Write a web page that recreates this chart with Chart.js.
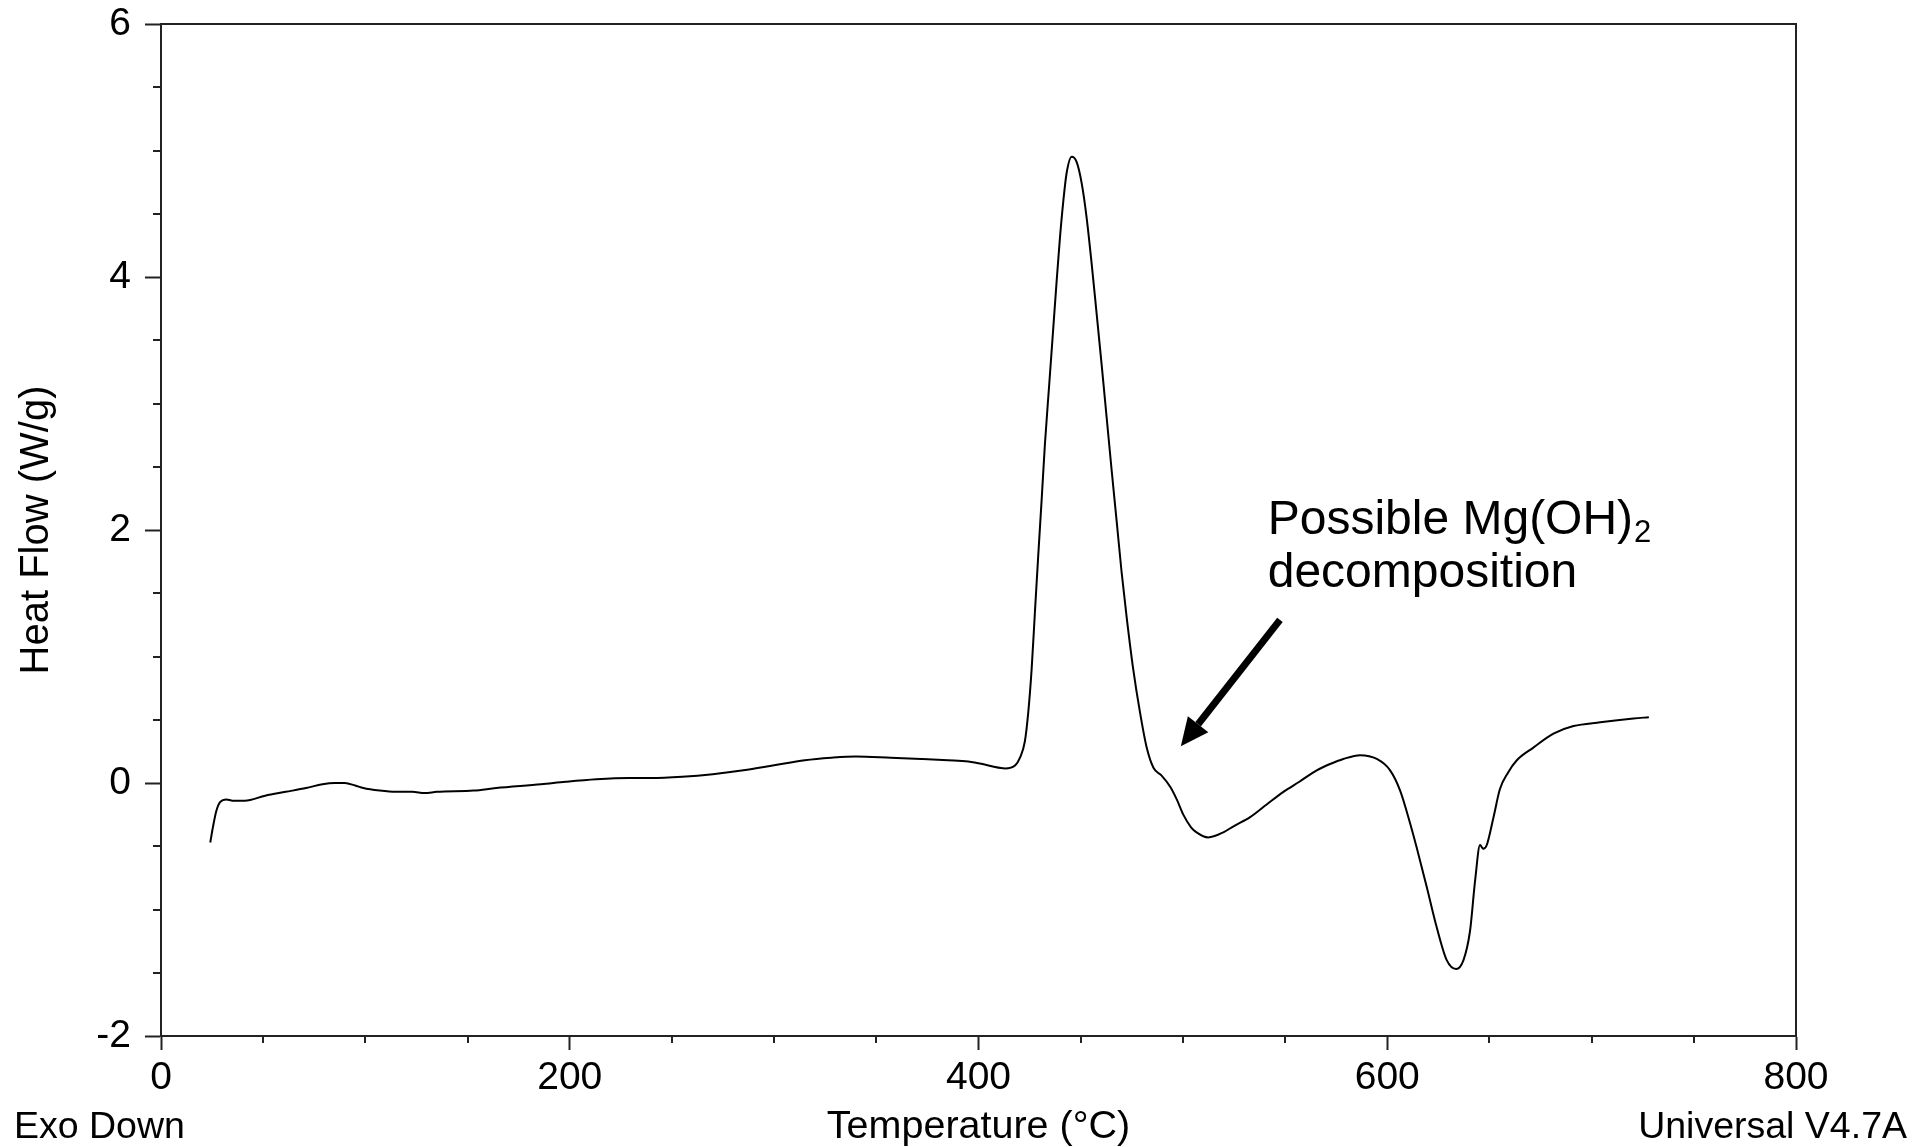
<!DOCTYPE html>
<html>
<head>
<meta charset="utf-8">
<script src="https://cdn.jsdelivr.net/npm/chart.js@4.4.0/dist/chart.umd.min.js"></script>
<style>
  html, body { margin: 0; padding: 0; background: #fff; }
  canvas { display: block; }
</style>
</head>
<body>
<canvas id="dsc" width="1917" height="1147"></canvas>
<script>
  "use strict";

  // DSC trace
  var temperature = [
    24.1, 25.4, 27.1, 29.0, 32.0, 35, 41, 51, 61, 71, 79, 85, 90, 95, 99, 107, 115, 123, 129, 135,
    153, 164, 186, 198, 213, 229, 240, 255, 270, 285, 300, 315, 328, 340, 357, 372, 385, 395, 402, 407,
    413, 418, 420.3, 422.7, 424.3, 426, 427.6, 429.2, 430.9, 432.5, 434.6, 436.6, 438.2, 439.8, 441.5, 443.1,
    445.6, 448, 450.5, 452.9, 455.4, 457.8, 460.3, 462.7, 465.1, 467.6, 470, 472.5, 475.7, 479, 482.3,
    485.6, 489.5, 493.8, 497, 500.2, 504, 506.7, 512.4, 519.8, 525, 532.9, 541, 549.2, 557, 565.5, 572,
    578.5, 586.7, 594.9, 601.4, 606.3, 611.2, 614.4, 619.3, 624.2, 629.1, 633.7, 637.3, 640.5, 643, 645.4,
    647, 648.7, 652, 655.1, 659, 663.4, 671.5, 681.3, 691.1, 704.2, 720.5, 728
  ];
  var heatFlow = [
    -0.47, -0.35, -0.22, -0.15, -0.13, -0.14, -0.14, -0.10, -0.07, -0.04, -0.01, 0.0, 0.0, -0.02, -0.04, -0.06, -0.07, -0.07, -0.08, -0.07,
    -0.06, -0.04, -0.01, 0.01, 0.03, 0.04, 0.04, 0.05, 0.07, 0.10, 0.14, 0.18, 0.20, 0.21, 0.20, 0.19, 0.18, 0.17, 0.15, 0.13,
    0.115, 0.14, 0.2, 0.33, 0.55, 0.9, 1.35, 1.79, 2.24, 2.68, 3.15, 3.6, 3.96, 4.3, 4.6, 4.82,
    4.95, 4.91, 4.74, 4.47, 4.1, 3.71, 3.30, 2.89, 2.48, 2.07, 1.67, 1.31, 0.90, 0.56, 0.28,
    0.12, 0.06, -0.03, -0.13, -0.25, -0.35, -0.39, -0.43, -0.39, -0.34, -0.27, -0.17, -0.07, 0.01, 0.10, 0.15,
    0.19, 0.22, 0.19, 0.10, -0.06, -0.32, -0.51, -0.82, -1.14, -1.40, -1.47, -1.40, -1.17, -0.77, -0.49,
    -0.52, -0.49, -0.27, -0.05, 0.08, 0.18, 0.28, 0.39, 0.45, 0.48, 0.51, 0.52
  ];
  var xMajor = [0, 200, 400, 600, 800];
  var yMajor = [-2, 0, 2, 4, 6];
  var xMinorStep = 50;
  var yMinorStep = 0.5;

  var FONT = "Arial, 'Liberation Sans', sans-serif";
  var INK = "#000";

  // Minor ticks, top/right frame, footer texts and the arrow note
  var extras = {
    id: "extras",
    afterDraw: function (chart) {
      var ctx = chart.ctx;
      var a = chart.chartArea;
      var xs = chart.scales.x, ys = chart.scales.y;
      ctx.save();
      ctx.strokeStyle = "#222";
      ctx.lineWidth = 2;
      ctx.beginPath();
      ctx.moveTo(a.left, a.top);
      ctx.lineTo(a.right, a.top);
      ctx.lineTo(a.right, a.bottom);
      for (var t = xs.min; t <= xs.max; t += xMinorStep) {
        if (xMajor.indexOf(t) >= 0) continue;
        var px = Math.round(xs.getPixelForValue(t));
        ctx.moveTo(px, a.bottom);
        ctx.lineTo(px, a.bottom + 7);
      }
      for (var v = ys.min; v <= ys.max; v += yMinorStep) {
        if (yMajor.indexOf(v) >= 0) continue;
        var py = Math.round(ys.getPixelForValue(v));
        ctx.moveTo(a.left - 8, py);
        ctx.lineTo(a.left, py);
      }
      ctx.stroke();

      // footer
      ctx.fillStyle = INK;
      ctx.font = "37.5px " + FONT;
      ctx.textBaseline = "middle";
      ctx.textAlign = "left";
      ctx.fillText("Exo Down", 14, 1128);
      ctx.textAlign = "right";
      ctx.fillText("Universal V4.7A", 1907, 1128);

      // annotation
      var tx = xs.getPixelForValue(541.5);
      var line1 = ys.getPixelForValue(1.97);
      var line2 = ys.getPixelForValue(1.55);
      ctx.textAlign = "left";
      ctx.textBaseline = "alphabetic";
      ctx.font = "48px " + FONT;
      var first = "Possible Mg(OH)";
      ctx.fillText(first, tx, line1);
      var w = ctx.measureText(first).width;
      ctx.font = "31px " + FONT;
      ctx.fillText("2", tx + w + 1, line1 + 8);
      ctx.font = "48px " + FONT;
      ctx.fillText("decomposition", tx, line2);

      // arrow
      var x0 = xs.getPixelForValue(547.5), y0 = ys.getPixelForValue(1.29);
      var x1 = xs.getPixelForValue(499), y1 = ys.getPixelForValue(0.29);
      var ang = Math.atan2(y1 - y0, x1 - x0);
      var head = 28, half = 13;
      var bx = x1 - head * Math.cos(ang), by = y1 - head * Math.sin(ang);
      ctx.strokeStyle = INK;
      ctx.lineWidth = 7;
      ctx.beginPath();
      ctx.moveTo(x0, y0);
      ctx.lineTo(bx, by);
      ctx.stroke();
      ctx.beginPath();
      ctx.moveTo(x1, y1);
      ctx.lineTo(bx + half * Math.sin(ang), by - half * Math.cos(ang));
      ctx.lineTo(bx - half * Math.sin(ang), by + half * Math.cos(ang));
      ctx.closePath();
      ctx.fill();
      ctx.restore();
    }
  };

  var points = temperature.map(function (t, i) {
    return { x: t, y: heatFlow[i] };
  });

  var ctx = document.getElementById("dsc").getContext("2d");
  var dscChart = new Chart(ctx, {
    type: "line",
    data: {
      datasets: [
        {
          label: "Heat Flow",
          data: points,
          borderColor: INK,
          borderWidth: 2,
          pointRadius: 0,
          fill: false,
          cubicInterpolationMode: "monotone",
        },
      ],
    },
    options: {
      responsive: false,
      animation: false,
      devicePixelRatio: 1,
      layout: { padding: { top: 24, right: 121, left: 0, bottom: 0 } },
      plugins: { legend: { display: false }, tooltip: { enabled: false } },
      scales: {
        x: {
          type: "linear",
          min: 0,
          max: 800,
          afterBuildTicks: function (scale) {
            scale.ticks = xMajor.map(function (v) { return { value: v }; });
          },
          afterFit: function (scale) {
            scale.height = 111;
            scale.paddingLeft = 0;
            scale.paddingRight = 0;
          },
          grid: { drawOnChartArea: false, tickLength: 14, tickWidth: 2, tickColor: "#222" },
          border: { color: "#222", width: 2 },
          ticks: { color: INK, font: { family: FONT, size: 39 }, padding: 5, maxRotation: 0 },
          title: {
            display: true,
            text: "Temperature (°C)",
            color: INK,
            font: { family: FONT, size: 39.5, lineHeight: 1 },
            padding: { top: 0, bottom: 0 },
          },
        },
        y: {
          type: "linear",
          min: -2,
          max: 6,
          afterBuildTicks: function (scale) {
            scale.ticks = yMajor.map(function (v) { return { value: v }; });
          },
          afterFit: function (scale) {
            scale.width = 161;
            scale.paddingTop = 0;
            scale.paddingBottom = 0;
          },
          grid: { drawOnChartArea: false, tickLength: 16, tickWidth: 2, tickColor: "#222" },
          border: { color: "#222", width: 2 },
          ticks: { color: INK, font: { family: FONT, size: 39 }, padding: 14 },
          title: {
            display: true,
            text: "Heat Flow (W/g)",
            color: INK,
            font: { family: FONT, size: 40, lineHeight: 1 },
            padding: { top: 17, bottom: 0 },
          },
        },
      },
    },
    plugins: [extras],
  });
</script>
</body>
</html>
